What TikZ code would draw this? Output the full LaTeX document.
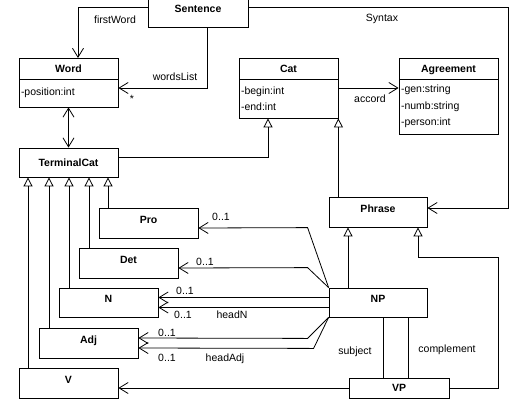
\documentclass[tikz,border=0pt]{standalone}
\usepackage{fontspec}
\setmainfont{Liberation Sans}
\usetikzlibrary{arrows.meta}
\begin{document}
\begin{tikzpicture}[x=1pt,y=-1pt,
  line width=0.8pt,
  txt/.style={font=\fontsize{10.5}{12}\selectfont},
  cbox/.style={draw, inner sep=0pt, minimum width=99pt, text height=7.6pt, text depth=0pt, font=\fontsize{10.5}{12}\selectfont\bfseries},
  hbox/.style={draw, inner sep=0pt, minimum width=99pt, minimum height=30pt, text height=8pt, text depth=8pt, font=\fontsize{10.5}{12}\selectfont\bfseries},
  abox/.style={draw, inner xsep=2pt, inner ysep=0pt, text width=95pt, align=left, font=\fontsize{10.5}{16.5}\selectfont},
  lbl/.style={inner sep=0pt, text height=7.6pt, text depth=0pt, font=\fontsize{10.5}{12}\selectfont},
  assoc/.style={-{Straight Barb[length=9pt,width=11pt]}},
  both/.style={{Straight Barb[length=9pt,width=11pt]}-{Straight Barb[length=9pt,width=11pt]}},
  gen/.style={-{Triangle[open,length=9pt,width=9pt]}}
]
\useasboundingbox (0,0) rectangle (510,410);

% classes
\node[cbox, minimum width=100pt, minimum height=37pt] (sentence) at (198,8.5) {Sentence};
\node[cbox, minimum height=21pt] (wordT) at (68.5,68.5) {Word};
\node[abox, minimum height=28pt] (wordA) at (68.5,93) {-position:int};
\node[cbox, minimum height=29pt] (tc) at (68.5,162.5) {TerminalCat};
\node[cbox, minimum height=21pt] (catT) at (288.5,68.5) {Cat};
\node[abox, minimum height=39pt] (catA) at (288.5,98.5) {-begin:int\\-end:int};
\node[cbox, minimum height=21pt] (agrT) at (448.5,68.5) {Agreement};
\node[abox, minimum height=55pt] (agrA) at (448.5,106.5) {-gen:string\\-numb:string\\-person:int};
\node[hbox, minimum width=98pt] (phrase) at (378,212) {Phrase};
\node[hbox, minimum width=98pt, minimum height=29pt] (np) at (378,302.5) {NP};
\node[cbox, minimum width=100pt, minimum height=20pt] (vp) at (399,388) {VP};
\node[hbox] (pro) at (148.5,223) {Pro};
\node[hbox] (det) at (128.5,263) {Det};
\node[hbox, minimum height=29pt] (n) at (108.5,302.5) {N};
\node[hbox] (adj) at (88.5,343) {Adj};
\node[hbox] (v) at (68.5,383) {V};

% Sentence associations
\coordinate (fwEnd) at (78,58);
\draw[assoc] ([yshift=1.5pt]sentence.west) -| (fwEnd);
\draw[assoc] ([xshift=60pt]sentence.south west) |- ([yshift=5pt]wordA.east);
\draw[assoc] ([yshift=1.5pt]sentence.east) -- ++(260,0) |- ([yshift=4pt]phrase.east);
\node[lbl] (lfw) at (115,20) {firstWord};
\node[lbl] (lwl) at (175,77) {wordsList};
\node[lbl] (lstar) at (132,99) {*};
\node[lbl] (lsyn) at (382,18) {Syntax};

% Word - TerminalCat
\draw[both] (wordA.south) -- (tc.north);

% accord
\coordinate (acS) at ([yshift=10.5pt]catA.east);
\draw[assoc] (acS) -- (acS -| agrA.west);
\node[lbl] (lacc) at (370,99) {accord};

% generalizations to Cat
\draw[gen] ([yshift=5.5pt]tc.east) -| ([xshift=-20.5pt]catA.south);
\draw[gen] (phrase.north -| catA.south east) -- (catA.south east);

% generalizations to Phrase
\draw[gen] ([xshift=-30pt]np.north) -- ([xshift=-30pt]phrase.south);
\draw[gen] (vp.east) -- ++(49,0) -- ++(0,-131) -| ([xshift=40pt]phrase.south);

% generalizations to TerminalCat
\coordinate (g1) at ([xshift=-40.5pt]tc.south);
\coordinate (g2) at ([xshift=-19.5pt]tc.south);
\coordinate (g3) at ([xshift=0.5pt]tc.south);
\coordinate (g4) at ([xshift=20.5pt]tc.south);
\coordinate (g5) at ([xshift=39.5pt]tc.south);
\draw[gen] (v.north -| g1) -- (g1);
\draw[gen] (adj.north -| g2) -- (g2);
\draw[gen] (n.north -| g3) -- (g3);
\draw[gen] (det.north -| g4) -- (g4);
\draw[gen] (pro.north -| g5) -- (g5);

% NP associations
\draw[assoc] (np.north west) -- ++(-21,-60) -- ([yshift=-5pt]pro.east);
\draw[assoc] (np.north west) -- ++(-21,-20) -- ([yshift=-5pt]det.east);
\draw[assoc] ([yshift=5pt]np.west) -- ([yshift=5pt]n.east);
\draw[assoc] ([yshift=-5pt]np.west) -- ([yshift=-5pt]n.east);
\draw[assoc] (np.south west) -- ++(-21,21) -- ([yshift=5pt]adj.east);
\draw[assoc] (np.south west) -- ++(-15,31) -- ([yshift=-5pt]adj.east);
\node[lbl] (lpro) at (221,217) {0..1};
\node[lbl] (ldet) at (205,262) {0..1};
\node[lbl] (ln1) at (185,291) {0..1};
\node[lbl] (ln2) at (183,315) {0..1};
\node[lbl] (lhn) at (232,315) {headN};
\node[lbl] (la1) at (167,333) {0..1};
\node[lbl] (la2) at (167,358) {0..1};
\node[lbl] (lha) at (225,358) {headAdj};

% VP
\draw[assoc] (vp.west) -- ([yshift=-5pt]v.east);
\coordinate (s1) at ([xshift=5pt]np.south);
\coordinate (s2) at ([xshift=30pt]np.south);
\draw (s1) -- (s1 |- vp.north);
\draw (s2) -- (s2 |- vp.north);
\node[lbl] (lsub) at (355,351) {subject};
\node[lbl] (lcomp) at (447,349) {complement};
\end{tikzpicture}
\end{document}
